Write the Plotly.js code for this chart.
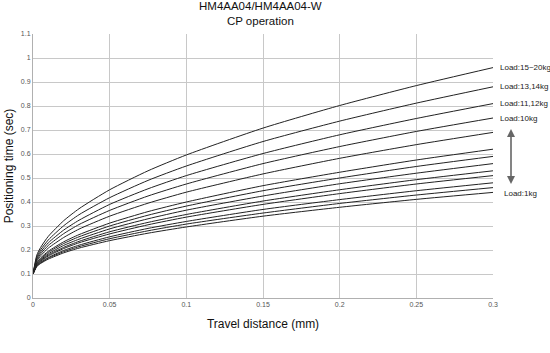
<!DOCTYPE html>
<html>
<head>
<meta charset="utf-8">
<script src="https://cdn.plot.ly/plotly-3.0.1.min.js"></script>
<style>html,body{margin:0;padding:0;background:#fff;}#chart{width:550px;height:353px;}</style>
</head>
<body>
<div id="chart"></div>
<script>
// Travel distance (mm)
const travel = [0, 0.0025, 0.005, 0.01, 0.02, 0.03, 0.05, 0.075, 0.1, 0.15, 0.2, 0.25, 0.3];

// Positioning time (sec) per load curve
const load15to20 = [0.1, 0.179, 0.211, 0.257, 0.322, 0.372, 0.451, 0.530, 0.596, 0.708, 0.802, 0.885, 0.96];
const load13_14  = [0.1, 0.171, 0.201, 0.242, 0.301, 0.347, 0.418, 0.490, 0.550, 0.652, 0.737, 0.812, 0.88];
const load11_12  = [0.1, 0.165, 0.192, 0.230, 0.283, 0.324, 0.390, 0.455, 0.510, 0.602, 0.680, 0.748, 0.81];
const load10     = [0.1, 0.159, 0.184, 0.219, 0.268, 0.306, 0.365, 0.425, 0.475, 0.560, 0.631, 0.694, 0.75];
const load9      = [0.1, 0.154, 0.176, 0.208, 0.252, 0.287, 0.341, 0.395, 0.441, 0.517, 0.582, 0.639, 0.69];
const load8      = [0.1, 0.147, 0.167, 0.195, 0.234, 0.264, 0.312, 0.360, 0.400, 0.468, 0.524, 0.575, 0.62];
const load7      = [0.1, 0.145, 0.163, 0.190, 0.227, 0.255, 0.300, 0.345, 0.383, 0.447, 0.500, 0.548, 0.59];
const load6      = [0.1, 0.142, 0.159, 0.184, 0.219, 0.245, 0.288, 0.330, 0.366, 0.425, 0.476, 0.520, 0.56];
const load5      = [0.1, 0.139, 0.156, 0.179, 0.211, 0.236, 0.276, 0.315, 0.348, 0.404, 0.451, 0.493, 0.53];
const load4      = [0.1, 0.137, 0.153, 0.175, 0.206, 0.230, 0.267, 0.305, 0.337, 0.390, 0.435, 0.475, 0.51];
const load3      = [0.1, 0.135, 0.149, 0.169, 0.198, 0.220, 0.255, 0.290, 0.319, 0.369, 0.410, 0.447, 0.48];
const load2      = [0.1, 0.133, 0.146, 0.166, 0.193, 0.214, 0.247, 0.280, 0.308, 0.354, 0.394, 0.429, 0.46];
const load1      = [0.1, 0.131, 0.144, 0.162, 0.188, 0.208, 0.239, 0.270, 0.296, 0.341, 0.378, 0.411, 0.44];

const seriesNames = ["Load:15~20kg","Load:13,14kg","Load:11,12kg","Load:10kg","Load:9kg","Load:8kg","Load:7kg","Load:6kg","Load:5kg","Load:4kg","Load:3kg","Load:2kg","Load:1kg"];
const seriesValues = [load15to20, load13_14, load11_12, load10, load9, load8, load7, load6, load5, load4, load3, load2, load1];

// Labelled curves on the right
const labelTexts = ["Load:15~20kg","Load:13,14kg","Load:11,12kg","Load:10kg"];
const labelIdx = [0, 1, 2, 3];

const xTicks = [0, 0.05, 0.1, 0.15, 0.2, 0.25, 0.3];
const xTickText = ["0","0.05","0.1","0.15","0.2","0.25","0.3"];
const yTicks = [0,0.1,0.2,0.3,0.4,0.5,0.6,0.7,0.8,0.9,1,1.1];
const yTickText = ["0","0.1","0.2","0.3","0.4","0.5","0.6","0.7","0.8","0.9","1","1.1"];

const traces = seriesValues.map((v, i) => ({
  x: travel, y: v, type: 'scatter', mode: 'lines', name: seriesNames[i],
  line: {color: '#222', width: 1, shape: 'spline', smoothing: 0.6},
  hoverinfo: 'skip'
}));

const xEnd = travel[travel.length - 1];
const annotations = labelIdx.map((k, j) => ({
  x: xEnd, y: seriesValues[k][seriesValues[k].length - 1], xref: 'x', yref: 'y',
  text: labelTexts[j], showarrow: false, xanchor: 'left', yanchor: 'middle', xshift: 5,
  font: {family: 'Liberation Sans, Arial, sans-serif', size: 8, color: '#222'}
}));
// Load:1kg label
annotations.push({
  x: xEnd, y: 0.4375, xref: 'x', yref: 'y', text: 'Load:1kg', showarrow: false,
  xanchor: 'left', yanchor: 'middle', xshift: 9,
  font: {family: 'Liberation Sans, Arial, sans-serif', size: 8, color: '#222'}
});
// double-headed arrow
annotations.push({
  x: xEnd, y: 0.475, xref: 'x', yref: 'y', ax: xEnd, ay: 0.71, axref: 'x', ayref: 'y',
  xshift: 18, showarrow: true, arrowhead: 2, arrowside: 'end+start', arrowsize: 1,
  arrowwidth: 1.6, arrowcolor: '#666', text: ''
});
// Chart title (two lines)
annotations.push({
  x: 0.495, y: 1, xref: 'paper', yref: 'paper', yanchor: 'bottom', xanchor: 'center',
  yshift: 5, showarrow: false, align: 'center',
  text: 'HM4AA04/HM4AA04-W<br>CP operation',
  font: {family: 'Liberation Sans, Arial, sans-serif', size: 11.5, color: '#111'}
});

const layout = {
  width: 550, height: 353,
  margin: {l: 33, r: 57, t: 34, b: 55},
  paper_bgcolor: '#fff', plot_bgcolor: '#fff',
  showlegend: false,
  font: {family: 'Liberation Sans, Arial, sans-serif', color: '#111'},
  xaxis: {
    range: [0, 0.3], tickvals: xTicks, ticktext: xTickText,
    showgrid: true, gridcolor: '#c8c8c8', gridwidth: 1,
    zeroline: false, showline: true, linecolor: '#b0b0b0', linewidth: 1,
    ticks: '', tickfont: {size: 7, color: '#555'},
    title: {text: 'Travel distance (mm)', font: {size: 12, color: '#111'}, standoff: 12}
  },
  yaxis: {
    range: [0, 1.1], tickvals: yTicks, ticktext: yTickText,
    showgrid: true, gridcolor: '#c8c8c8', gridwidth: 1,
    zeroline: false, showline: true, linecolor: '#b0b0b0', linewidth: 1,
    ticks: '', tickfont: {size: 7, color: '#555'},
    title: {text: 'Positioning time (sec)', font: {size: 12, color: '#111'}, standoff: 4}
  },
  annotations: annotations
};

Plotly.newPlot('chart', traces, layout, {staticPlot: true, displayModeBar: false});
</script>
</body>
</html>
